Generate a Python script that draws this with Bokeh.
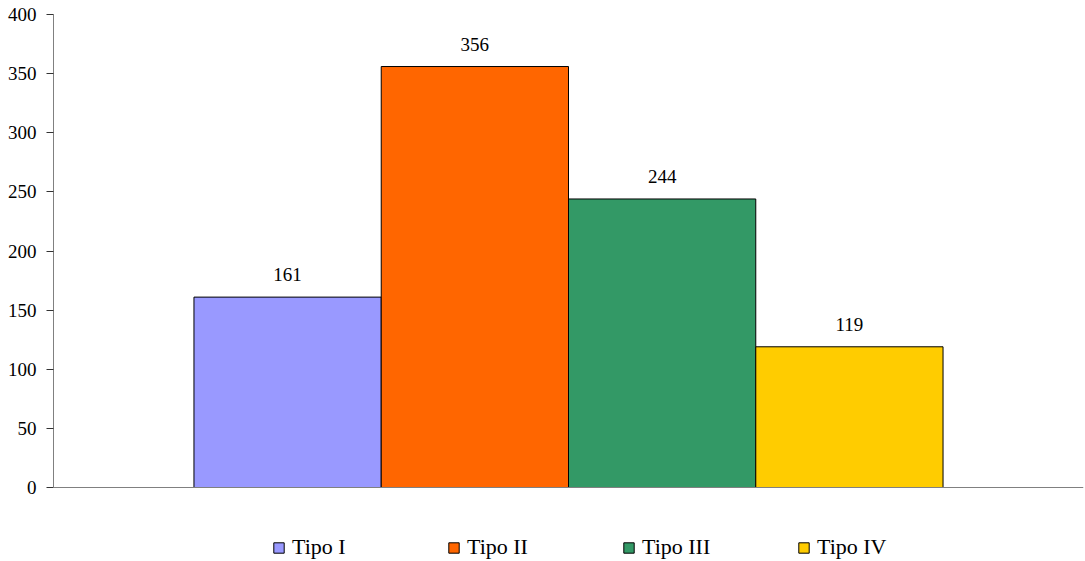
from bokeh.plotting import figure
from bokeh.models import (Range1d, FixedTicker, Legend, LegendItem,
                          ColumnDataSource, LabelSet, Span)
from bokeh.embed import file_html
from bokeh.resources import INLINE

# Data
tipos = ["Tipo I", "Tipo II", "Tipo III", "Tipo IV"]
valores = [161, 356, 244, 119]
colores = ["#9999FF", "#FF6600", "#339966", "#FFCC00"]
y_ticks = [0, 50, 100, 150, 200, 250, 300, 350, 400]

FONT = "Liberation Serif"
GAP = 1.5  # gap between clusters, in bar widths
n = len(tipos)
x_pos = [GAP / 2 + 0.5 + i for i in range(n)]

# the frame runs to the bottom of the canvas so the legend can sit under the bars
PLOT_TOP, ZERO_PX, CANVAS_H = 14, 487, 561
y_max = y_ticks[-1]
y_min = -y_max * (CANVAS_H - ZERO_PX) / (ZERO_PX - PLOT_TOP)

source = ColumnDataSource(dict(
    x=x_pos, top=valores, tipo=tipos, color=colores,
    label=[str(v) for v in valores],
))

p = figure(width=1085, height=CANVAS_H, output_backend="svg", toolbar_location=None,
           x_range=Range1d(0, n + GAP), y_range=Range1d(y_min, y_max),
           x_axis_location=None,
           min_border_left=53, min_border_right=2, min_border_top=PLOT_TOP,
           min_border_bottom=0)
p.outline_line_color = None
p.grid.visible = False
p.background_fill_color = "white"
p.border_fill_color = "white"

renderers = []
for i in range(n):
    r = p.vbar(x=[x_pos[i]], top=[valores[i]], width=1.0,
               fill_color=colores[i], line_color="black", line_width=1)
    renderers.append(r)

labels = LabelSet(x="x", y="top", text="label", source=source,
                  text_align="center", text_baseline="alphabetic",
                  y_offset=16, text_font=FONT, text_font_size="19px",
                  text_color="black")
p.add_layout(labels)

# category axis line at zero
p.add_layout(Span(location=0, dimension="width", line_color="#808080",
                  line_width=1))

# value axis
yax = p.yaxis[0]
yax.bounds = (0, y_max)
yax.ticker = FixedTicker(ticks=y_ticks)
yax.axis_line_color = "#808080"
yax.major_tick_line_color = "#333333"
yax.major_tick_out = 7
yax.major_tick_in = 0
yax.minor_tick_line_color = None
yax.major_label_text_font = FONT
yax.major_label_text_font_size = "19px"
yax.major_label_text_color = "black"
yax.major_label_standoff = 10

legend = Legend(
    items=[LegendItem(label=t, renderers=[r]) for t, r in zip(tipos, renderers)],
    orientation="horizontal", location=(219, 1),
    glyph_width=13, glyph_height=13, label_standoff=7,
    label_width=140, spacing=15, padding=0, margin=0,
    border_line_color=None, background_fill_alpha=0,
    label_text_font=FONT, label_text_font_size="22px",
    label_text_color="black",
)
p.add_layout(legend, "center")

open("out.html", "w").write(file_html(p, INLINE))
